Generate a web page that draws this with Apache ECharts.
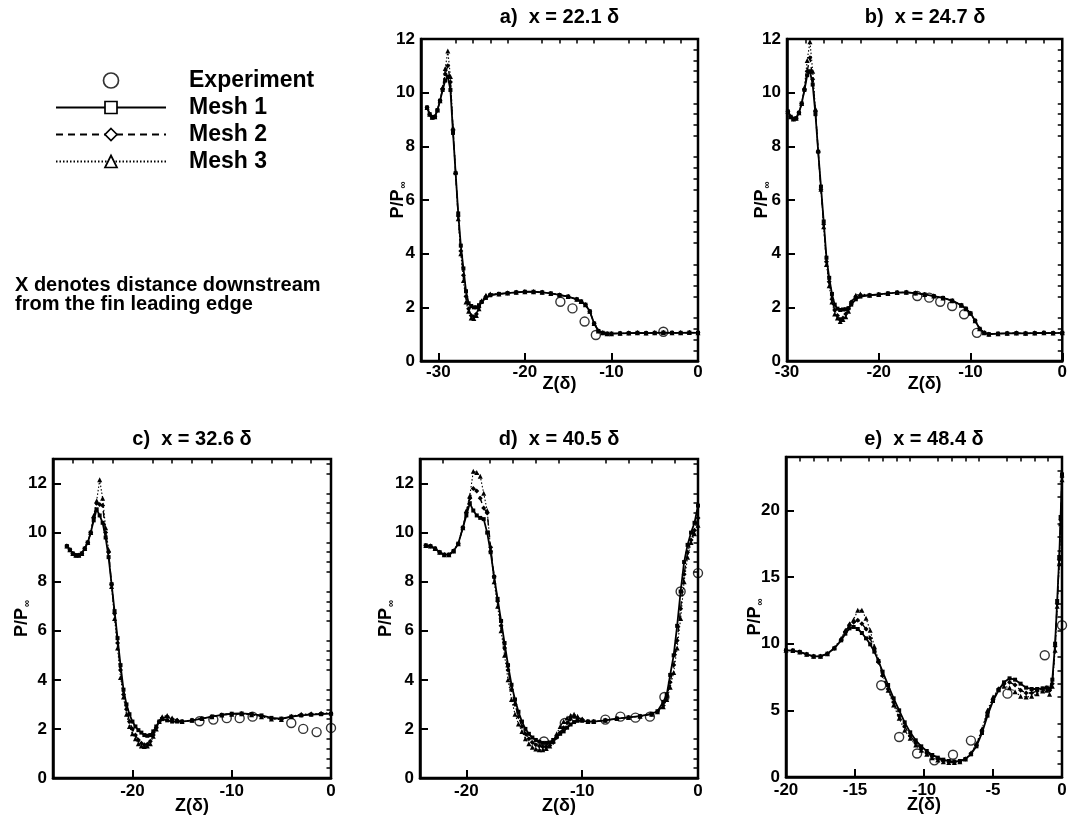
<!DOCTYPE html>
<html>
<head>
<meta charset="utf-8">
<script src="https://cdn.jsdelivr.net/npm/echarts@6/dist/echarts.min.js"></script>
<style>
html,body{margin:0;padding:0;background:#fff;}
#chart{width:1070px;height:825px;}
</style>
</head>
<body>
<div id="chart"></div>
<script>
// ---------------- DATA ----------------
const seriesNames = ['Experiment', 'Mesh 1', 'Mesh 2', 'Mesh 3'];
const panelTitles = ['a)  x = 22.1 δ', 'b)  x = 24.7 δ', 'c)  x = 32.6 δ', 'd)  x = 40.5 δ', 'e)  x = 48.4 δ'];
const noteLines = ['X denotes distance downstream', 'from the fin leading edge'];

// tick labels
const aXTicks = [-30, -20, -10, 0];
const bXTicks = [-30, -20, -10, 0];
const cXTicks = [-20, -10, 0];
const dXTicks = [-20, -10, 0];
const eXTicks = [-20, -15, -10, -5, 0];
const abYTicks = [0, 2, 4, 6, 8, 10, 12];
const cdYTicks = [0, 2, 4, 6, 8, 10, 12];
const eYTicks = [0, 5, 10, 15, 20];

// panel a) x = 22.1
const aZ = [-31.3,-31.0,-30.7,-30.4,-30.1,-29.8,-29.5,-29.2,-28.9,-28.6,-28.3,-28.0,-27.7,-27.4,-27.1,-26.8,-26.5,-26.2,-25.9,-25.6,-25.3,-25.0,-24.5,-24.0,-23,-22,-21,-20,-19,-18,-17,-16,-15,-14,-13.5,-13,-12.5,-12,-11.5,-11,-10.5,-10,-9,-8,-7,-6,-5,-4,-3,-2,-1,0];
const aM1 = [9.45,9.2,9.08,9.1,9.35,9.7,10.1,10.45,10.6,10.1,8.5,7.0,5.5,4.3,3.45,2.6,2.15,2.05,2.0,2.0,2.08,2.2,2.35,2.45,2.5,2.53,2.56,2.58,2.58,2.56,2.52,2.46,2.4,2.3,2.22,2.1,1.85,1.4,1.12,1.05,1.02,1.02,1.03,1.04,1.05,1.04,1.05,1.06,1.05,1.05,1.06,1.05];
const aM2 = [9.45,9.2,9.08,9.1,9.35,9.7,10.15,10.7,11.0,10.4,8.6,7.0,5.4,4.1,3.2,2.4,1.95,1.7,1.65,1.75,2.0,2.2,2.4,2.47,2.5,2.53,2.56,2.58,2.58,2.56,2.52,2.46,2.4,2.3,2.22,2.1,1.85,1.4,1.12,1.05,1.02,1.02,1.03,1.04,1.05,1.04,1.05,1.06,1.05,1.05,1.06,1.05];
const aM3 = [9.45,9.2,9.08,9.1,9.35,9.7,10.2,10.9,11.55,10.6,8.7,7.05,5.3,4.0,3.0,2.2,1.85,1.6,1.58,1.7,1.95,2.25,2.45,2.5,2.5,2.53,2.56,2.58,2.58,2.56,2.52,2.46,2.4,2.3,2.22,2.1,1.85,1.4,1.12,1.05,1.02,1.02,1.03,1.04,1.05,1.04,1.05,1.06,1.05,1.05,1.06,1.05];
const aExpZ = [-15.9,-14.5,-13.1,-11.8,-4.0];
const aExpP = [2.21,1.96,1.47,0.97,1.09];

// panel b) x = 24.7
const bZ = [-29.9,-29.6,-29.3,-29.0,-28.7,-28.4,-28.1,-27.8,-27.5,-27.2,-26.9,-26.6,-26.3,-26.0,-25.7,-25.4,-25.1,-24.8,-24.5,-24.2,-23.9,-23.6,-23.3,-23.0,-22.5,-22.0,-21,-20,-19,-18,-17,-16,-15,-14,-13,-12,-11,-10.5,-10,-9.5,-9,-8.5,-8,-7,-6,-5,-4,-3,-2,-1,0];
const bM1 = [9.3,9.1,9.02,9.05,9.25,9.6,10.1,10.65,10.8,10.3,9.2,7.8,6.5,5.2,3.85,3.1,2.5,2.1,1.95,1.9,1.92,1.93,1.97,2.1,2.3,2.4,2.45,2.48,2.52,2.55,2.56,2.53,2.48,2.42,2.35,2.25,2.08,1.95,1.78,1.5,1.2,1.05,1.0,1.02,1.03,1.04,1.03,1.04,1.05,1.04,1.05];
const bM2 = [9.3,9.1,9.02,9.05,9.25,9.6,10.1,10.8,11.3,10.5,9.3,7.8,6.4,5.1,3.7,2.95,2.3,1.9,1.7,1.55,1.6,1.75,1.95,2.2,2.4,2.45,2.45,2.48,2.52,2.55,2.56,2.53,2.48,2.42,2.35,2.25,2.08,1.95,1.78,1.5,1.2,1.05,1.0,1.02,1.03,1.04,1.03,1.04,1.05,1.04,1.05];
const bM3 = [9.3,9.1,9.02,9.05,9.25,9.6,10.2,11.2,11.9,10.8,9.4,7.85,6.4,5.0,3.6,2.8,2.2,1.75,1.6,1.47,1.55,1.65,1.85,2.2,2.45,2.5,2.45,2.48,2.52,2.55,2.56,2.53,2.48,2.42,2.35,2.25,2.08,1.95,1.78,1.5,1.2,1.05,1.0,1.02,1.03,1.04,1.03,1.04,1.05,1.04,1.05];
const bExpZ = [-15.8,-14.5,-13.3,-12.0,-10.7,-9.3];
const bExpP = [2.42,2.36,2.21,2.05,1.74,1.05];

// panel c) x = 32.6
const cZ = [-26.6,-26.3,-26.0,-25.7,-25.4,-25.1,-24.8,-24.5,-24.2,-23.9,-23.6,-23.3,-23.0,-22.7,-22.4,-22.1,-21.8,-21.5,-21.2,-20.9,-20.6,-20.3,-20.0,-19.7,-19.4,-19.1,-18.8,-18.5,-18.2,-17.9,-17.6,-17.3,-17.0,-16.5,-16.0,-15.5,-15.0,-14,-13,-12,-11,-10,-9,-8,-7,-6,-5,-4,-3,-2,-1,0];
const cM1 = [9.45,9.3,9.15,9.08,9.08,9.15,9.35,9.6,10.0,10.5,10.95,10.7,10.4,9.8,9.0,7.9,6.8,5.7,4.6,3.6,3.0,2.6,2.3,2.1,1.95,1.85,1.75,1.72,1.75,1.9,2.1,2.3,2.4,2.35,2.3,2.3,2.3,2.35,2.42,2.5,2.57,2.62,2.63,2.6,2.55,2.45,2.42,2.5,2.55,2.58,2.6,2.62];
const cM2 = [9.45,9.3,9.15,9.08,9.08,9.15,9.35,9.6,10.0,10.6,11.2,11.15,11.1,10.0,9.2,7.9,6.7,5.5,4.4,3.4,2.8,2.3,2.0,1.75,1.55,1.42,1.35,1.38,1.5,1.75,2.05,2.3,2.45,2.5,2.4,2.35,2.3,2.35,2.42,2.5,2.57,2.6,2.62,2.6,2.52,2.42,2.4,2.5,2.57,2.6,2.62,2.64];
const cM3 = [9.45,9.3,9.15,9.08,9.08,9.15,9.35,9.6,10.0,10.7,11.3,12.15,11.4,10.2,9.3,7.8,6.5,5.3,4.1,3.3,2.6,2.1,1.8,1.6,1.4,1.3,1.28,1.3,1.4,1.7,2.0,2.3,2.5,2.55,2.45,2.35,2.3,2.35,2.42,2.5,2.57,2.6,2.62,2.58,2.5,2.4,2.38,2.52,2.6,2.62,2.64,2.66];
const cExpZ = [-13.25,-11.85,-10.5,-9.2,-7.9,-4.0,-2.8,-1.45,0];
const cExpP = [2.31,2.38,2.44,2.44,2.5,2.24,2.0,1.87,2.04];

// panel d) x = 40.5
const dZ = [-23.5,-23.1,-22.7,-22.3,-21.9,-21.5,-21.1,-20.7,-20.3,-20.0,-19.7,-19.4,-19.1,-18.8,-18.5,-18.2,-17.9,-17.6,-17.3,-17.0,-16.7,-16.4,-16.1,-15.8,-15.5,-15.2,-14.9,-14.6,-14.3,-14.0,-13.7,-13.4,-13.1,-12.8,-12.5,-12.2,-11.9,-11.6,-11.3,-11.0,-10.7,-10.4,-10.0,-9.5,-9.0,-8,-7,-6,-5,-4,-3.5,-3.0,-2.7,-2.4,-2.1,-1.8,-1.5,-1.2,-0.9,-0.6,-0.3,0];
const dM1 = [9.48,9.45,9.35,9.2,9.1,9.1,9.25,9.55,10.2,10.7,11.2,10.9,10.7,10.6,10.55,10.0,9.2,8.2,7.3,6.4,5.5,4.6,3.8,3.2,2.7,2.3,2.0,1.8,1.65,1.55,1.48,1.43,1.43,1.45,1.55,1.68,1.8,1.9,2.05,2.18,2.28,2.33,2.33,2.3,2.3,2.35,2.42,2.47,2.52,2.62,2.72,3.1,3.4,4.2,5.0,6.2,7.6,8.8,9.5,10.0,10.4,11.1];
const dM2 = [9.48,9.45,9.35,9.2,9.1,9.1,9.25,9.55,10.2,10.8,11.4,11.8,11.7,11.4,11.0,10.8,9.4,8.2,7.2,6.2,5.3,4.4,3.6,3.0,2.5,2.1,1.8,1.6,1.45,1.35,1.3,1.27,1.27,1.32,1.45,1.65,1.85,2.05,2.25,2.4,2.5,2.45,2.38,2.3,2.3,2.35,2.42,2.47,2.52,2.6,2.7,2.95,3.3,3.9,4.6,5.6,6.9,8.3,9.2,9.7,10.1,10.6];
const dM3 = [9.48,9.45,9.35,9.2,9.1,9.1,9.25,9.55,10.2,10.9,11.5,12.5,12.45,12.3,11.6,10.9,9.3,8.0,7.0,6.0,5.0,4.0,3.2,2.6,2.2,1.9,1.6,1.4,1.25,1.18,1.15,1.15,1.2,1.3,1.5,1.8,2.1,2.3,2.45,2.55,2.6,2.52,2.4,2.3,2.3,2.35,2.42,2.47,2.52,2.6,2.7,2.9,3.2,3.7,4.3,5.3,6.5,8.0,9.0,9.6,9.95,10.3];
const dExpZ = [-13.3,-11.5,-8.0,-6.7,-5.4,-4.15,-2.9,-1.5,0];
const dExpP = [1.49,2.24,2.38,2.5,2.46,2.5,3.3,7.6,8.35];

// panel e) x = 48.4
const eZ = [-20.0,-19.5,-19.0,-18.5,-18.0,-17.5,-17.0,-16.5,-16.0,-15.7,-15.4,-15.1,-14.8,-14.5,-14.2,-13.9,-13.6,-13.3,-13.0,-12.6,-12.2,-11.8,-11.4,-11.0,-10.6,-10.2,-9.8,-9.4,-9.0,-8.6,-8.2,-7.8,-7.4,-7.0,-6.6,-6.2,-5.8,-5.4,-5.0,-4.6,-4.2,-3.8,-3.4,-3.0,-2.6,-2.2,-1.8,-1.4,-1.1,-0.9,-0.7,-0.5,-0.35,-0.2,-0.1,0];
const eM1 = [9.5,9.48,9.38,9.2,9.05,9.05,9.25,9.65,10.25,10.75,11.15,11.25,11.1,10.8,10.4,9.95,9.4,8.7,7.9,6.9,5.9,5.0,4.1,3.35,2.75,2.3,1.95,1.65,1.45,1.3,1.2,1.15,1.2,1.35,1.7,2.3,3.3,4.6,5.7,6.5,7.1,7.4,7.3,7.0,6.7,6.6,6.6,6.65,6.7,6.6,7.3,10.0,13.2,16.5,19.5,22.7];
const eM2 = [9.5,9.48,9.38,9.2,9.05,9.05,9.25,9.65,10.3,10.9,11.4,11.6,11.75,11.5,11.1,10.4,9.6,8.6,7.6,6.6,5.6,4.6,3.8,3.1,2.55,2.1,1.8,1.55,1.35,1.22,1.15,1.12,1.18,1.35,1.75,2.4,3.5,4.8,5.8,6.6,7.0,7.1,6.9,6.5,6.3,6.3,6.45,6.6,6.7,6.5,7.0,9.8,13.0,16.3,19.3,22.5];
const eM3 = [9.5,9.48,9.38,9.2,9.05,9.05,9.25,9.7,10.4,11.0,11.5,11.8,12.5,12.5,11.9,11.0,9.8,8.8,7.7,6.5,5.4,4.4,3.5,2.9,2.4,2.0,1.7,1.45,1.28,1.15,1.08,1.08,1.15,1.35,1.8,2.5,3.6,5.0,6.0,6.6,6.8,6.7,6.4,6.05,6.0,6.05,6.25,6.45,6.5,6.2,6.8,9.5,12.8,16.0,19.0,22.3];
const eExpZ = [-13.1,-11.8,-10.5,-9.25,-7.9,-6.6,-3.95,-1.25,0];
const eExpP = [6.88,3.0,1.76,1.25,1.67,2.73,6.25,9.13,11.38];

// ---------------- LAYOUT ----------------
const FONT = '"Liberation Sans", Arial, Helvetica, sans-serif';
const panels = [
  {title: panelTitles[0], grid: {left: 421, top: 39, width: 277, height: 322}, titleTop: 6,
   x: [-32, 0], xMaj: aXTicks, xStep: 2, xMajStep: 10, y: [0, 12], yMaj: abYTicks, yStep: 0.4, yMajStep: 2,
   yGap: 13, xGap: 14, xMargin: 3,
   Z: aZ, m: [aM1, aM2, aM3], eZ: aExpZ, eP: aExpP},
  {title: panelTitles[1], grid: {left: 787, top: 39, width: 276, height: 322}, titleTop: 6,
   x: [-30, 0], xMaj: bXTicks, xStep: 2, xMajStep: 10, y: [0, 12], yMaj: abYTicks, yStep: 0.4, yMajStep: 2,
   yGap: 15, xGap: 14, xMargin: 3,
   Z: bZ, m: [bM1, bM2, bM3], eZ: bExpZ, eP: bExpP},
  {title: panelTitles[2], grid: {left: 53, top: 459, width: 278, height: 319}, titleTop: 428,
   x: [-28, 0], xMaj: cXTicks, xStep: 2, xMajStep: 10, y: [0, 13], yMaj: cdYTicks, yStep: 0.4, yMajStep: 2,
   yGap: 21, xGap: 19, xMargin: 5,
   Z: cZ, m: [cM1, cM2, cM3], eZ: cExpZ, eP: cExpP},
  {title: panelTitles[3], grid: {left: 420, top: 459, width: 278, height: 319}, titleTop: 428,
   x: [-24, 0], xMaj: dXTicks, xStep: 2, xMajStep: 10, y: [0, 13], yMaj: cdYTicks, yStep: 0.4, yMajStep: 2,
   yGap: 24, xGap: 19, xMargin: 5,
   Z: dZ, m: [dM1, dM2, dM3], eZ: dExpZ, eP: dExpP},
  {title: panelTitles[4], grid: {left: 786, top: 457, width: 276, height: 320}, titleTop: 428,
   x: [-20, 0], xMaj: eXTicks, xStep: 1, xMajStep: 5, y: [0, 24], yMaj: eYTicks, yStep: 1, yMajStep: 5,
   yGap: 21, xGap: 19, xMargin: 5,
   Z: eZ, m: [eM1, eM2, eM3], eZ: eExpZ, eP: eExpP}
];

function minorTicks(min, max, step, majStep) {
  const out = [];
  const k0 = Math.ceil(min / step - 1e-9);
  for (let k = k0; k * step <= max + 1e-9; k++) {
    const v = +(k * step).toFixed(6);
    const r = v / majStep;
    if (Math.abs(r - Math.round(r)) > 1e-6 && v > min + 1e-9 && v < max - 1e-9) out.push(v);
  }
  return out;
}

const labelStyle = {color: '#000', fontSize: 17, fontWeight: 'bold', fontFamily: FONT};
const grids = [], xAxes = [], yAxes = [], series = [], titles = [];

panels.forEach((p, i) => {
  grids.push(Object.assign({show: true, borderColor: '#000', borderWidth: 2.5, containLabel: false}, p.grid));
  titles.push({text: p.title, left: p.grid.left + p.grid.width / 2, top: p.titleTop, textAlign: 'center', padding: 0,
    textStyle: {fontSize: 20, fontWeight: 'bold', fontFamily: FONT, color: '#000', lineHeight: 22}});
  // x major
  xAxes.push({type: 'value', gridIndex: i, min: p.x[0], max: p.x[1],
    axisLine: {show: true, onZero: false, lineStyle: {color: '#000', width: 2.5}},
    axisTick: {show: true, inside: true, length: 8, lineStyle: {color: '#000', width: 2}, customValues: p.xMaj},
    axisLabel: Object.assign({customValues: p.xMaj, margin: p.xMargin, showMinLabel: true, showMaxLabel: true}, labelStyle),
    splitLine: {show: false},
    name: 'Z(δ)', nameLocation: 'middle', nameGap: p.xGap, nameMoveOverlap: false,
    nameTextStyle: {color: '#000', fontSize: 18, fontWeight: 'bold', fontFamily: FONT}});
  // x minor
  xAxes.push({type: 'value', gridIndex: i, min: p.x[0], max: p.x[1],
    axisLine: {show: false, onZero: false},
    axisTick: {show: true, inside: true, length: 4.5, lineStyle: {color: '#000', width: 1.5},
      customValues: minorTicks(p.x[0], p.x[1], p.xStep, p.xMajStep)},
    axisLabel: {show: false}, splitLine: {show: false}});
  // y major
  yAxes.push({type: 'value', gridIndex: i, min: p.y[0], max: p.y[1],
    axisLine: {show: true, onZero: false, lineStyle: {color: '#000', width: 2.5}},
    axisTick: {show: true, inside: true, length: 8, lineStyle: {color: '#000', width: 2}, customValues: p.yMaj},
    axisLabel: Object.assign({customValues: p.yMaj, margin: 6, showMinLabel: true, showMaxLabel: true}, labelStyle),
    splitLine: {show: false},
    name: '{p|P/P}{s|∞}', nameLocation: 'middle', nameGap: p.yGap, nameMoveOverlap: false,
    nameTextStyle: {color: '#000', fontSize: 18, fontWeight: 'bold', fontFamily: FONT,
      rich: {p: {fontSize: 18, fontWeight: 'bold', fontFamily: FONT, color: '#000'},
             s: {fontSize: 10, fontWeight: 'bold', fontFamily: FONT, color: '#000', padding: [9, 0, 0, 1]}}}});
  // y minor
  yAxes.push({type: 'value', gridIndex: i, min: p.y[0], max: p.y[1],
    axisLine: {show: false, onZero: false},
    axisTick: {show: true, inside: true, length: 4.5, lineStyle: {color: '#000', width: 1.5},
      customValues: minorTicks(p.y[0], p.y[1], p.yStep, p.yMajStep)},
    axisLabel: {show: false}, splitLine: {show: false}});

  const xi = 2 * i, yi = 2 * i;
  const meshStyles = [
    {symbol: 'rect', size: 4, line: {color: '#000', width: 1.8, type: 'solid'}},
    {symbol: 'diamond', size: 5, line: {color: '#000', width: 1.4, type: [7, 5]}},
    {symbol: 'triangle', size: 5, line: {color: '#000', width: 1.1, type: [1.5, 2]}}
  ];
  p.m.forEach((vals, k) => {
    const st = meshStyles[k];
    series.push({type: 'line', name: seriesNames[k + 1], xAxisIndex: xi, yAxisIndex: yi,
      data: p.Z.map((z, j) => [z, vals[j]]),
      symbol: st.symbol, symbolSize: st.size, showSymbol: true, showAllSymbol: true,
      lineStyle: st.line, itemStyle: {color: '#000'}, z: 3 + k, silent: true, animation: false,
      clip: true});
  });
  series.push({type: 'scatter', name: seriesNames[0], xAxisIndex: xi, yAxisIndex: yi,
    data: p.eZ.map((z, j) => [z, p.eP[j]]),
    symbol: 'circle', symbolSize: 9,
    itemStyle: {color: 'rgba(255,255,255,0)', borderColor: '#000', borderWidth: 1.4},
    z: 10, silent: true, animation: false});
});

const legendItem = {color: '#fff', borderColor: '#000', borderWidth: 1.7};
const option = {
  backgroundColor: '#fff',
  animation: false,
  title: titles,
  legend: {
    orient: 'vertical', left: 55, top: 69, padding: 0, itemWidth: 110, itemHeight: 15, itemGap: 4,
    selectedMode: false,
    textStyle: {fontSize: 23, fontWeight: 'bold', color: '#000', fontFamily: FONT, padding: [0, 0, 0, 18]},
    data: seriesNames.map(n => ({name: n, itemStyle: legendItem}))
  },
  grid: grids,
  xAxis: xAxes,
  yAxis: yAxes,
  series: series,
  graphic: [{
    type: 'text', left: 15, top: 275,
    style: {text: noteLines.join('\n'), fontSize: 20, fontWeight: 'bold', fontFamily: FONT, fill: '#000', lineHeight: 19}
  }]
};

const chart = echarts.init(document.getElementById('chart'), null, {renderer: 'canvas'});
chart.setOption(option);
</script>
</body>
</html>
